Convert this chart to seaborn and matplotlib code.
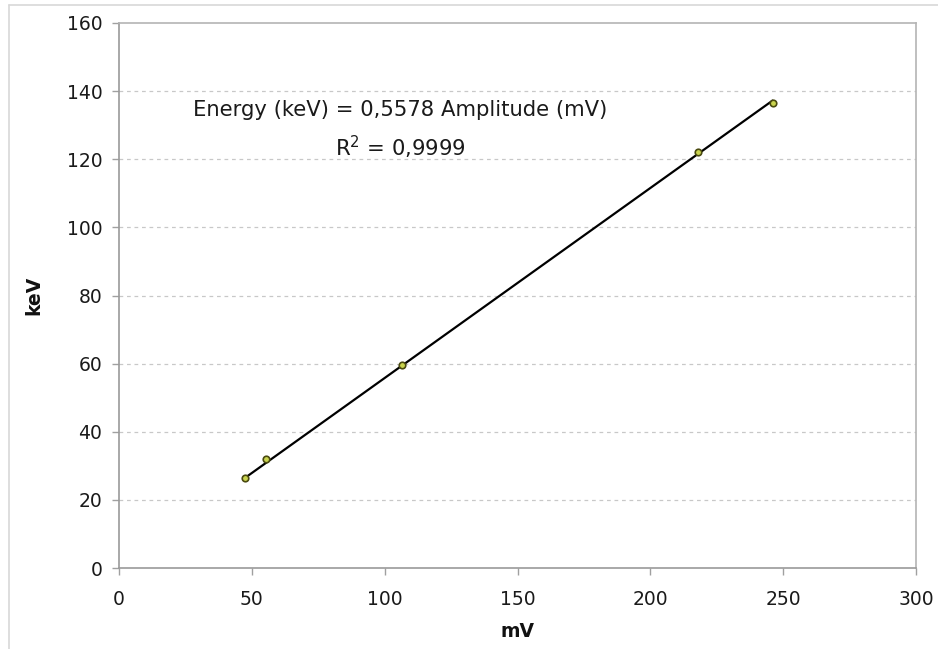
import matplotlib
matplotlib.use("Agg")
import matplotlib.pyplot as plt
import seaborn as sns
import pandas as pd
from matplotlib.lines import Line2D

# Data
amplitude_mv = [47.5, 55.5, 106.5, 218.0, 246.0]
energy_kev = [26.4, 31.9, 59.6, 122.2, 136.6]
slope = 0.5578
fit_x = [47.5, 246.0]
fit_y = [slope * v for v in fit_x]
x_ticks = [0, 50, 100, 150, 200, 250, 300]
y_ticks = [0, 20, 40, 60, 80, 100, 120, 140, 160]
equation_text = "Energy (keV) = 0,5578 Amplitude (mV)"
r2_text = r"R$^2$ = 0,9999"

sns.set_style("white")
plt.rcParams['font.family'] = ['DejaVu Sans']

fig = plt.figure(figsize=(9.38, 6.49), dpi=100)
ax = fig.add_axes([119/938, 1-568/649, (916-119)/938, (568-23)/649])

df = pd.DataFrame({"mV": amplitude_mv, "keV": energy_kev})
fit_df = pd.DataFrame({"mV": fit_x, "keV": fit_y})

for y in y_ticks[1:-1]:
    ax.axhline(y, color="#c8c8c8", lw=0.9, ls=(0, (3, 3)), zorder=0)

sns.lineplot(data=fit_df, x="mV", y="keV", ax=ax, color="black", lw=1.6, zorder=2)
sns.scatterplot(data=df, x="mV", y="keV", ax=ax, color="#c9d44e", edgecolor="#4a4a10",
                s=22, linewidth=1.2, zorder=3)

ax.set_xlim(0, 300)
ax.set_ylim(0, 160)
ax.set_xticks(x_ticks)
ax.set_yticks(y_ticks)
ax.tick_params(axis="both", which="major", labelsize=13.5, labelcolor="#1a1a1a",
               length=5, width=1, direction="out", color="#a0a0a0",
               bottom=True, left=True)
ax.tick_params(axis="x", pad=11)
ax.tick_params(axis="y", pad=7)
for s in ["left", "bottom"]:
    ax.spines[s].set_color("#9a9a9a")
    ax.spines[s].set_linewidth(1.2)
for s in ["top", "right"]:
    ax.spines[s].set_color("#b4b4b4")
    ax.spines[s].set_linewidth(1.2)

ax.set_xlabel("mV", fontsize=13.5, fontweight="bold", labelpad=9, color="#111111")
ax.set_ylabel("keV", fontsize=13.5, fontweight="bold", labelpad=17, color="#111111")

ax.annotate(equation_text, xy=(400/938, 1-110/649), xycoords="figure fraction",
            fontsize=15.2, ha="center", va="center", color="#1a1a1a")
ax.annotate(r2_text, xy=(400/938, 1-147/649), xycoords="figure fraction",
            fontsize=15.2, ha="center", va="center", color="#1a1a1a")

# figure border (left & top)
fig.add_artist(Line2D([8.5/938, 8.5/938], [0, 1-4.5/649], transform=fig.transFigure,
                      color="#d8d8d8", lw=1.2))
fig.add_artist(Line2D([8.5/938, 1], [1-4.5/649, 1-4.5/649], transform=fig.transFigure,
                      color="#d8d8d8", lw=1.2))

fig.savefig("out.png", dpi=100)
